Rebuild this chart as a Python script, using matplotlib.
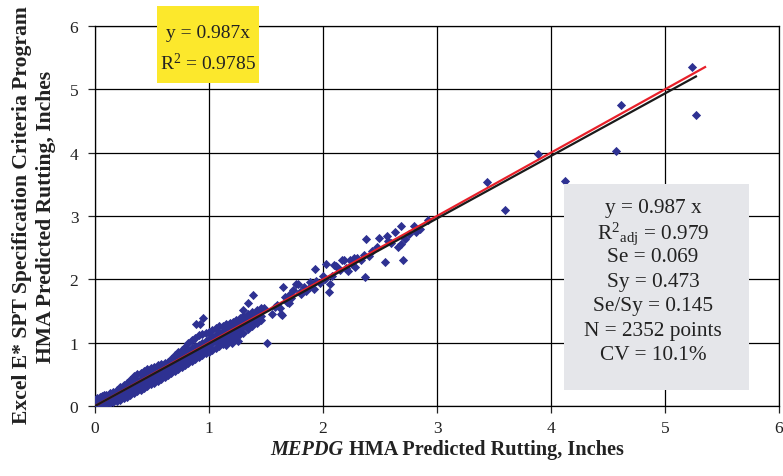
import numpy as np
import matplotlib
matplotlib.use("Agg")
import matplotlib.pyplot as plt
from matplotlib.patches import Rectangle

plt.rcParams["font.family"] = ["Liberation Serif", "DejaVu Serif"]
plt.rcParams["mathtext.fontset"] = "custom"
plt.rcParams["mathtext.rm"] = "Liberation Serif"
plt.rcParams["mathtext.it"] = "Liberation Serif:italic"

# dense cloud of small-rut sections: lower / two inner / upper readings per x
band_x = [0.00, 0.02, 0.04, 0.06, 0.08, 0.10, 0.13, 0.16, 0.19, 0.22,
          0.25, 0.28, 0.31, 0.34, 0.37, 0.40, 0.43, 0.46, 0.49, 0.52,
          0.55, 0.58, 0.61, 0.64, 0.67, 0.70, 0.73, 0.76, 0.79, 0.82,
          0.85, 0.88, 0.91, 0.94, 0.97, 1.00, 1.03, 1.06, 1.09, 1.12,
          1.15, 1.18, 1.21, 1.24, 1.27, 1.30, 1.34, 1.38, 1.42, 1.46]
band_lo = [0.00, 0.00, 0.01, 0.01, 0.02, 0.03, 0.04, 0.06, 0.08, 0.10,
           0.12, 0.15, 0.17, 0.20, 0.23, 0.26, 0.28, 0.31, 0.34, 0.37,
           0.40, 0.43, 0.46, 0.49, 0.52, 0.56, 0.59, 0.62, 0.65, 0.68,
           0.71, 0.74, 0.77, 0.80, 0.83, 0.86, 0.89, 0.92, 0.95, 0.98,
           1.01, 1.04, 1.06, 1.09, 1.13, 1.16, 1.21, 1.26, 1.31, 1.36]
band_m1 = [0.03, 0.04, 0.05, 0.06, 0.07, 0.08, 0.10, 0.12, 0.14, 0.16,
           0.19, 0.22, 0.25, 0.28, 0.31, 0.34, 0.37, 0.40, 0.43, 0.46,
           0.49, 0.52, 0.55, 0.58, 0.61, 0.64, 0.67, 0.70, 0.74, 0.77,
           0.80, 0.83, 0.87, 0.90, 0.93, 0.96, 0.99, 1.02, 1.05, 1.08,
           1.11, 1.14, 1.17, 1.20, 1.23, 1.26, 1.30, 1.34, 1.39, 1.42]
band_m2 = [0.06, 0.08, 0.10, 0.11, 0.12, 0.13, 0.15, 0.17, 0.20, 0.23,
           0.26, 0.29, 0.33, 0.36, 0.40, 0.43, 0.46, 0.49, 0.52, 0.54,
           0.57, 0.60, 0.63, 0.65, 0.69, 0.72, 0.76, 0.79, 0.83, 0.87,
           0.91, 0.94, 0.97, 1.00, 1.03, 1.06, 1.09, 1.12, 1.15, 1.18,
           1.20, 1.23, 1.26, 1.28, 1.31, 1.34, 1.38, 1.42, 1.47, 1.50]
band_hi = [0.10, 0.13, 0.15, 0.16, 0.17, 0.18, 0.20, 0.22, 0.26, 0.30,
           0.33, 0.36, 0.41, 0.47, 0.50, 0.52, 0.56, 0.58, 0.60, 0.62,
           0.64, 0.66, 0.68, 0.70, 0.75, 0.81, 0.86, 0.88, 0.93, 0.99,
           1.04, 1.08, 1.12, 1.14, 1.15, 1.17, 1.20, 1.23, 1.26, 1.27,
           1.29, 1.31, 1.33, 1.36, 1.39, 1.42, 1.45, 1.48, 1.51, 1.54]

# individual sections outside the dense cloud
sparse_x = [0.89, 0.92, 0.95, 1.15, 1.20, 1.25, 1.30, 1.34, 1.39, 1.48,
            1.51, 1.55, 1.58, 1.60, 1.62, 1.63, 1.64, 1.65, 1.67, 1.68,
            1.70, 1.71, 1.72, 1.74, 1.76, 1.78, 1.80, 1.81, 1.83, 1.85,
            1.89, 1.89, 1.92, 1.93, 1.94, 1.97, 2.00, 2.02, 2.03, 2.05,
            2.06, 2.08, 2.10, 2.11, 2.12, 2.15, 2.17, 2.18, 2.20, 2.22,
            2.24, 2.25, 2.27, 2.28, 2.30, 2.33, 2.36, 2.37, 2.38, 2.40,
            2.43, 2.47, 2.49, 2.54, 2.56, 2.57, 2.60, 2.63, 2.66, 2.68,
            2.68, 2.70, 2.72, 2.75, 2.80, 2.82, 2.85, 2.92,
            3.44, 3.60, 3.89, 4.12, 4.57, 4.61, 5.24, 5.27]
sparse_y = [1.29, 1.30, 1.39, 0.97, 0.99, 1.02, 1.51, 1.63, 1.75, 1.54,
            0.99, 1.46, 1.56, 1.60, 1.55, 1.46, 1.44, 1.88, 1.72, 1.65,
            1.62, 1.77, 1.70, 1.83, 1.93, 1.93, 1.80, 1.77, 1.88, 1.82,
            1.96, 1.88, 1.85, 2.17, 1.98, 1.95, 2.06, 2.00, 2.25, 1.80,
            1.92, 2.05, 2.23, 2.21, 2.20, 2.14, 2.30, 2.30, 2.18, 2.13,
            2.31, 2.24, 2.33, 2.20, 2.34, 2.30, 2.38, 2.03, 2.63, 2.37,
            2.45, 2.51, 2.65, 2.28, 2.69, 2.61, 2.58, 2.75, 2.51, 2.56,
            2.84, 2.30, 2.64, 2.72, 2.85, 2.75, 2.80, 2.93,
            3.54, 3.10, 3.98, 3.55, 4.02, 4.75, 5.36, 4.60]

fit_slope, fit_xmax = 0.987, 5.28       # regression through origin
unity_slope, unity_xmax = 1.0, 5.36     # line of equality

axis_ticks = [0, 1, 2, 3, 4, 5, 6]

stat_lines = ["y = 0.987 x", r"R$^{2}$$_{\mathrm{adj}}$ = 0.979", "Se = 0.069",
              "Sy = 0.473", "Se/Sy = 0.145", "N = 2352 points", "CV = 10.1%"]
trend_lines = ["y = 0.987x", r"R$^{2}$ = 0.9785"]

W, H = 783, 477
fig = plt.figure(figsize=(W / 100, H / 100), dpi=100)
ax = fig.add_axes([95 / W, 70 / H, 684 / W, 380 / H])

pts_x = np.concatenate([np.tile(band_x, 4), sparse_x])
pts_y = np.concatenate([band_lo, band_m1, band_m2, band_hi, sparse_y])
ax.scatter(pts_x, pts_y, marker="D", s=22, color="#2E3192", linewidths=0, zorder=3)

xr = np.array([0, unity_xmax])
ax.plot(xr, unity_slope * xr, color="#E8202A", lw=1.6, zorder=4, solid_capstyle="butt")
xf = np.array([0, fit_xmax])
ax.plot(xf, fit_slope * xf, color="#1A1A1A", lw=1.6, zorder=5, solid_capstyle="butt")

ax.set_xlim(0, 6)
ax.set_ylim(0, 6)
ax.set_xticks(axis_ticks)
ax.set_yticks(axis_ticks)
ax.grid(True, color="black", lw=0.9)
ax.set_axisbelow(True)
for sp in ax.spines.values():
    sp.set_color("black")
    sp.set_linewidth(0.9)
ax.tick_params(direction="out", length=5, width=0.9, labelsize=12.5, colors="#222222")
ax.tick_params(axis="x", pad=5)
ax.tick_params(axis="y", pad=7)

# statistics panel
ax.add_patch(Rectangle((4.114, 0.26), 1.623, 3.25, facecolor="#E5E6EA",
                       edgecolor="none", zorder=6))
for i, line in enumerate(stat_lines):
    ypx = 209 + i * 24.5
    fig.text(653 / W, 1 - ypx / H, line, ha="center", va="center",
             fontsize=15.3, color="#222222", zorder=7)

# trendline label from the spreadsheet
fig.patches.append(Rectangle((157 / W, 1 - 84 / H), 102 / W, 77 / H,
                             transform=fig.transFigure, facecolor="#FCE82C",
                             edgecolor="none", zorder=8))
for i, line in enumerate(trend_lines):
    ypx = 33 + i * 30
    fig.text(208 / W, 1 - ypx / H, line, ha="center", va="center",
             fontsize=14, color="#222222", zorder=9)

# axis titles
fig.text(22 / W, 1 - 215 / H, "Excel E* SPT Specification Criteria Program",
         rotation=90, ha="center", va="center", fontsize=15.6, fontweight="bold",
         color="#222222")
fig.text(46 / W, 1 - 217 / H, "HMA Predicted Rutting, Inches",
         rotation=90, ha="center", va="center", fontsize=15.6, fontweight="bold",
         color="#222222")

renderer = fig.canvas.get_renderer()
t1 = fig.text(0, 1 - 455 / H, "MEPDG", fontsize=14.6, fontweight="bold",
              fontstyle="italic", va="baseline", color="#222222")
t2 = fig.text(0, 1 - 455 / H, " HMA Predicted Rutting, Inches", fontsize=14.6,
              fontweight="bold", va="baseline", color="#222222")
w1 = t1.get_window_extent(renderer).width
w2 = t2.get_window_extent(renderer).width
x0 = 447 - (w1 + w2) / 2
t1.set_x(x0 / W)
t2.set_x((x0 + w1) / W)

fig.savefig("out.png", dpi=100)
